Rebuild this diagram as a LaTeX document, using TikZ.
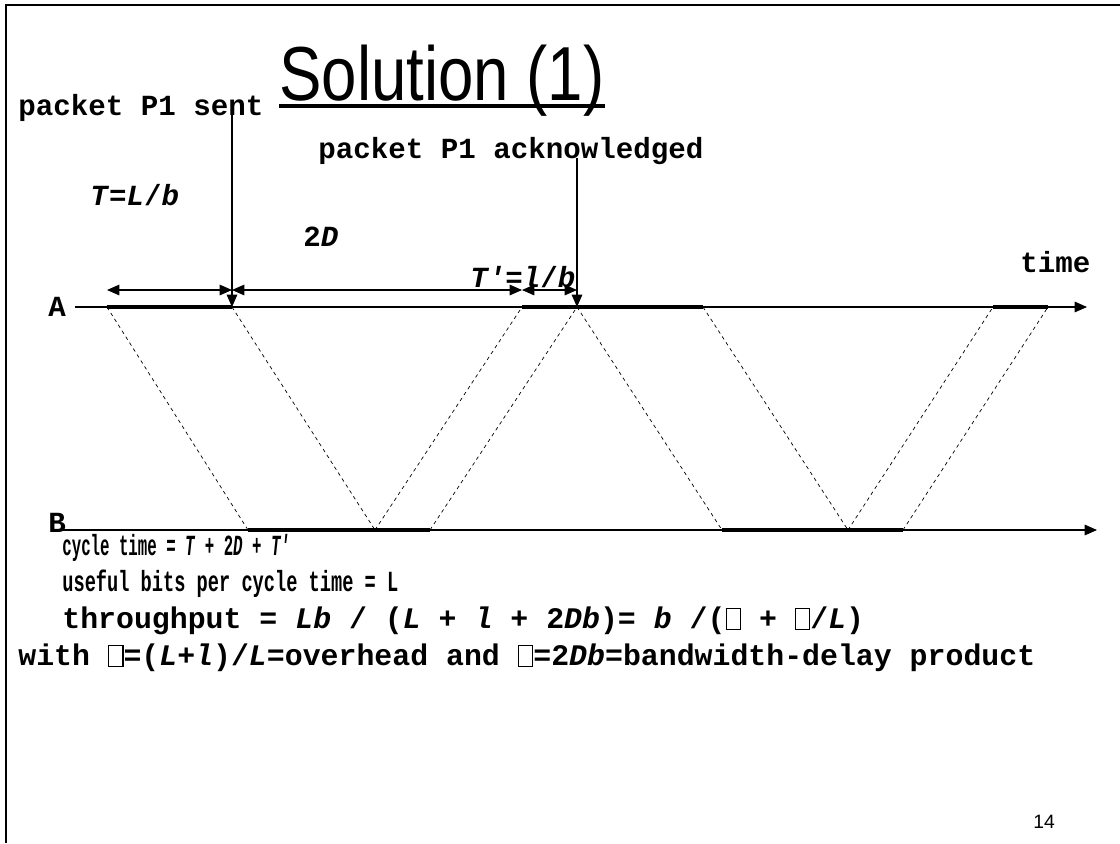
\documentclass[tikz,border=0pt]{standalone}
\usepackage{fontspec}
\setmainfont{Liberation Sans}
\setmonofont{Liberation Mono}
\newfontfamily\titlefont[FakeStretch=0.83]{Liberation Sans}
\usetikzlibrary{arrows.meta,positioning}
\newcommand{\nochar}{{\setlength{\fboxsep}{0pt}\setlength{\fboxrule}{0.6pt}\fbox{\vphantom{L}\hspace{0.45em}}}}

\begin{document}
\begin{tikzpicture}[x=0.02cm, y=-0.02cm,
    lbl/.style={font=\fontsize{16.6}{18}\selectfont\ttfamily\bfseries, inner sep=0pt, anchor=west},
    result/.style={lbl, font=\fontsize{17}{19}\selectfont\ttfamily\bfseries},
    axis/.style={line width=0.6pt, -{Triangle[length=7pt, width=6pt]}},
    busy/.style={line width=2.4pt},
    prop/.style={line width=0.4pt, dash pattern=on 2pt off 2pt},
    dim/.style={line width=0.6pt, {Triangle[length=7pt, width=6pt]}-{Triangle[length=7pt, width=6pt]}},
    event/.style={line width=0.6pt, -{Triangle[length=7pt, width=6pt]}}
  ]
    \useasboundingbox (0,0) rectangle (1120,843);
    % Frame
    \draw[line width=1.2pt] (1120,5) -- (6,5) -- (6,843);

    % Title
    \node[font=\titlefont\fontsize{43.6}{46}\selectfont, inner sep=0pt, anchor=base] (title) at (442,100) {Solution (1)};
    \draw[line width=1.8pt] (title.base west |- 0,106) -- (title.base east |- 0,106);

    % Time lines of A and B
    \coordinate (Astart) at (75,307);
    \coordinate (Aend)   at (1087,307);
    \coordinate (Bstart) at (55,530);
    \coordinate (Bend)   at (1097,530);
    \node[lbl] (lblA) at (48,307) {A};
    \node[lbl] (lblB) at (48,523) {B};
    \draw[axis] (Astart) -- (Aend);
    \draw[axis] (Bstart) -- (Bend);

    % Instants on A
    \coordinate (a1) at (107,307);
    \coordinate (a2) at (232,307);
    \coordinate (a3) at (522,307);
    \coordinate (a4) at (577,307);
    \coordinate (a5) at (703,307);
    \coordinate (a6) at (993,307);
    \coordinate (a7) at (1048,307);
    % Instants on B
    \coordinate (b1) at (248,530);
    \coordinate (b2) at (375,530);
    \coordinate (b3) at (430,530);
    \coordinate (b4) at (722,530);
    \coordinate (b5) at (848,530);
    \coordinate (b6) at (903,530);

    % Transmissions
    \draw[busy] (a1) -- (a2);
    \draw[busy] (a3) -- (a5);
    \draw[busy] (a6) -- (a7);
    \draw[busy] (b1) -- (b2);
    \draw[busy] (b2) -- (b3);
    \draw[busy] (b4) -- (b5);
    \draw[busy] (b5) -- (b6);

    % Propagation
    \draw[prop] (a1) -- (b1);
    \draw[prop] (a2) -- (b2);
    \draw[prop] (b2) -- (a3);
    \draw[prop] (b3) -- (a4);
    \draw[prop] (a4) -- (b4);
    \draw[prop] (a5) -- (b5);
    \draw[prop] (b5) -- (a6);
    \draw[prop] (b6) -- (a7);

    % Durations
    \coordinate (d1) at (107,290);
    \coordinate (d2) at (232,290);
    \coordinate (d3) at (522,290);
    \coordinate (d4) at (577,290);
    \draw[dim] (d1) -- (d2);
    \draw[dim] (d2) -- (d3);
    \draw[dim] (d3) -- (d4);

    % Labels
    \node[lbl] (lblsent) at (18,108) {packet P1 sent};
    \node[lbl] (lblack)  at (318,151) {packet P1 acknowledged};
    \node[lbl] (lblT)    at (90,195)  {\textit{T}=\textit{L}/\textit{b}};
    \node[lbl] (lbl2D)   at (303,237) {2\textit{D}};
    \node[lbl] (lblTp)   at (470,277) {\textit{T'}=\textit{l}/\textit{b}};
    \node[lbl] (lbltime) at (1020,262) {time};
    \coordinate (sent) at (232,110);
    \coordinate (ack)  at (577,158);
    \draw[event] (sent) -- (a2);
    \draw[event] (ack) -- (a4);

    % Results
    \node[lbl] (cycle)  at (62,548) {\scalebox{0.54}[1]{cycle time = \textit{T} + 2\textit{D} + \textit{T'}}};
    \node[lbl] (useful) at (62,584) {\scalebox{0.64}[1]{useful bits per cycle time = L}};
    \node[result] (thru)   at (62,621) {throughput = \textit{Lb} / (\textit{L} + \textit{l} + 2\textit{Db})= \textit{b} /(\nochar{} + \nochar/\textit{L})};
    \node[result] (withln) at (18,658) {with \nochar=(\textit{L}+\textit{l})/\textit{L}=overhead and \nochar=2\textit{Db}=bandwidth-delay product};

    \node[font=\fontsize{11}{13}\selectfont, inner sep=0pt] (pagenum) at (1044,822) {14};
\end{tikzpicture}
\end{document}
